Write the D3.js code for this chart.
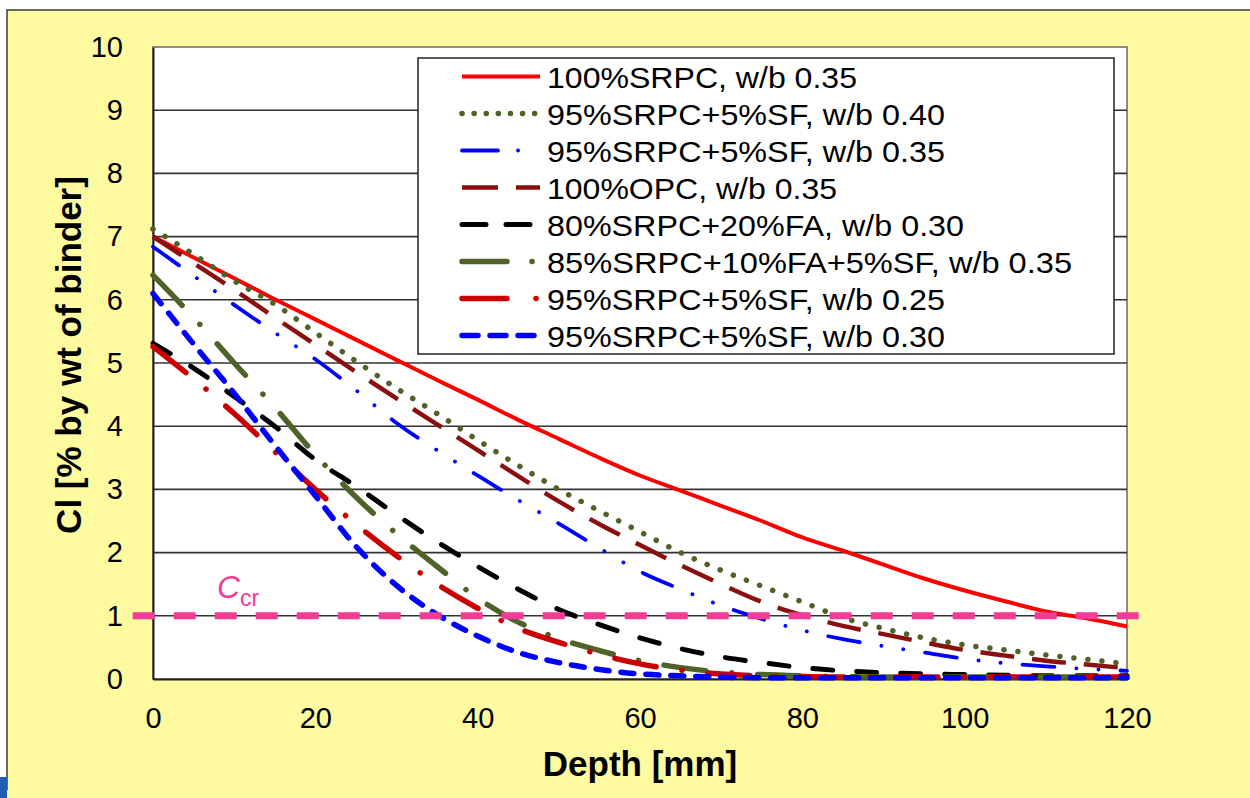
<!DOCTYPE html>
<html>
<head>
<meta charset="utf-8">
<script src="https://cdn.jsdelivr.net/npm/d3@7/dist/d3.min.js"></script>
<style>
  html, body { margin: 0; padding: 0; background: #ffffff; }
  svg { display: block; }
  text { font-family: "Liberation Sans", Arial, sans-serif; }
</style>
</head>
<body>
<svg id="chart" width="1250" height="798"></svg>
<script>
// ---------------- data ----------------
const depth = [0,5,10,15,20,25,30,35,40,45,50,55,60,65,70,75,80,85,90,95,100,105,110,115,120];

const srpc035   = [7.0,6.67,6.34,6.01,5.69,5.37,5.05,4.73,4.42,4.1,3.8,3.5,3.22,2.98,2.74,2.5,2.24,2.03,1.81,1.59,1.4,1.23,1.07,0.96,0.83];
const sf040     = [7.12,6.72,6.3,5.93,5.48,5.03,4.6,4.2,3.78,3.38,3.0,2.66,2.33,2.0,1.72,1.47,1.22,0.97,0.8,0.65,0.54,0.46,0.38,0.31,0.24];
const sf035     = [6.84,6.38,5.92,5.48,5.06,4.57,4.05,3.62,3.22,2.83,2.46,2.07,1.7,1.42,1.16,0.95,0.77,0.63,0.52,0.42,0.32,0.25,0.2,0.16,0.13];
const opc035    = [7.0,6.58,6.16,5.72,5.29,4.86,4.44,4.03,3.62,3.21,2.81,2.45,2.12,1.8,1.5,1.22,1.01,0.84,0.71,0.58,0.46,0.37,0.29,0.23,0.17];
const fa030     = [5.31,4.92,4.47,4.0,3.47,3.05,2.6,2.17,1.78,1.42,1.1,0.86,0.65,0.48,0.35,0.26,0.18,0.13,0.1,0.08,0.07,0.06,0.05,0.05,0.05];
const fasf035   = [6.39,5.72,5.0,4.3,3.55,2.88,2.3,1.78,1.28,0.9,0.64,0.45,0.29,0.18,0.11,0.07,0.05,0.04,0.03,0.03,0.03,0.03,0.03,0.03,0.03];
const sf025     = [5.26,4.75,4.2,3.6,3.0,2.45,1.95,1.5,1.12,0.8,0.58,0.39,0.24,0.14,0.08,0.05,0.04,0.03,0.03,0.03,0.03,0.03,0.03,0.03,0.03];
const sf030     = [6.1,5.3,4.52,3.7,2.9,2.1,1.48,1.02,0.68,0.42,0.26,0.15,0.08,0.05,0.03,0.02,0.02,0.02,0.02,0.02,0.02,0.02,0.02,0.02,0.02];

const seriesNames = [
  "100%SRPC, w/b 0.35",
  "95%SRPC+5%SF, w/b 0.40",
  "95%SRPC+5%SF, w/b 0.35",
  "100%OPC, w/b 0.35",
  "80%SRPC+20%FA, w/b 0.30",
  "85%SRPC+10%FA+5%SF, w/b 0.35",
  "95%SRPC+5%SF, w/b 0.25",
  "95%SRPC+5%SF, w/b 0.30"
];
const seriesValues = [srpc035, sf040, sf035, opc035, fa030, fasf035, sf025, sf030];

const xTicks = [0,20,40,60,80,100,120];
const yTicks = [0,1,2,3,4,5,6,7,8,9,10];
const ccrValue = 1;
const ccrDepthRange = [-2.5, 123.4];

// ---------------- styles ----------------
const styles = [
  {color:"#ff0000", width:4, dash:null, cap:"butt", legendDash:null},
  {color:"#4f6228", width:5.5, dash:"0.1 14", cap:"round", legendDash:"0.1 12"},
  {color:"#0000ff", width:3.8, dash:"32 22 0.1 22 0.1 22", cap:"round", legendDash:"36 20 0.1 40"},
  {color:"#8a0f0f", width:4.5, dash:"34 18", cap:"butt", legendDash:"36 18"},
  {color:"#000000", width:5, dash:"20 24", cap:"round", legendDash:"24 20"},
  {color:"#4f6228", width:5.5, dash:"42 26 0.1 26", cap:"round", legendDash:"45 25 0.1 40"},
  {color:"#cc0000", width:5.5, dash:"42 26 0.1 26", cap:"round", legendDash:"45 29 0.1 40"},
  {color:"#0000ff", width:5.5, dash:"13 12", cap:"round", legendDash:"16 12"}
];
const legendTextWidths = [310, 398, 398, 290, 417, 525, 398, 398];

// ---------------- layout ----------------
const svg = d3.select("#chart");
const plot = {left:153, right:1127, top:47, bottom:679};

const x = d3.scaleLinear().domain([0,120]).range([plot.left, plot.right]);
const y = d3.scaleLinear().domain([0,10]).range([plot.bottom, plot.top]);

// slide background
svg.append("rect").attr("x",0).attr("y",0).attr("width",1250).attr("height",798).attr("fill","#ffffff");
svg.append("rect").attr("x",7).attr("y",10).attr("width",1243).attr("height",788).attr("fill","#fdfaa0");
svg.append("path").attr("d","M7,790 L7,10 L1250,10").attr("fill","none").attr("stroke","#3a3a3a").attr("stroke-width",1.5);
svg.append("rect").attr("x",0).attr("y",777).attr("width",7).attr("height",21).attr("fill","#1f5fb0");

// plot area
svg.append("rect")
  .attr("x",plot.left).attr("y",plot.top)
  .attr("width",plot.right-plot.left).attr("height",plot.bottom-plot.top)
  .attr("fill","#ffffff").attr("stroke","#6a6a6a").attr("stroke-width",1.5);

// gridlines
svg.append("g").selectAll("line").data(yTicks.filter(d => d>0 && d<10)).join("line")
  .attr("x1",plot.left).attr("x2",plot.right)
  .attr("y1",d=>y(d)).attr("y2",d=>y(d))
  .attr("stroke","#333333").attr("stroke-width",1.6);

// axes
const yAxis = d3.axisLeft(y).tickValues(yTicks).tickSize(0).tickPadding(30).tickFormat(d3.format("d"));
const gy = svg.append("g").attr("transform",`translate(${plot.left},0)`).call(yAxis);
gy.select(".domain").attr("stroke","#222").attr("stroke-width",2);
gy.selectAll("text").attr("font-size",29).attr("fill","#000")
  .attr("font-family","'Liberation Sans', Arial, sans-serif");

const xAxis = d3.axisBottom(x).tickValues(xTicks).tickSize(0).tickPadding(28).tickFormat(d3.format("d"));
const gx = svg.append("g").attr("transform",`translate(0,${plot.bottom})`).call(xAxis);
gx.select(".domain").attr("stroke","#222").attr("stroke-width",2);
gx.selectAll("text").attr("font-size",29).attr("fill","#000")
  .attr("font-family","'Liberation Sans', Arial, sans-serif");

// series lines
const line = d3.line().x(d=>x(d[0])).y(d=>y(d[1])).curve(d3.curveMonotoneX);
const gLines = svg.append("g");
seriesValues.forEach((vals,i) => {
  const st = styles[i];
  gLines.append("path")
    .datum(depth.map((d,j)=>[d, vals[j]]))
    .attr("d", line)
    .attr("fill","none")
    .attr("stroke", st.color)
    .attr("stroke-width", st.width)
    .attr("stroke-linecap", st.cap)
    .attr("stroke-dasharray", st.dash);
});

// critical chloride line
svg.append("line")
  .attr("x1", x(ccrDepthRange[0])).attr("x2", x(ccrDepthRange[1]))
  .attr("y1", y(ccrValue)).attr("y2", y(ccrValue))
  .attr("stroke","#f23c96").attr("stroke-width",7).attr("stroke-dasharray","22 19");

const ccr = svg.append("text").attr("x",217).attr("y",y(ccrValue)-18)
  .attr("fill","#f23c96").attr("font-size",32).attr("font-style","italic");
ccr.append("tspan").text("C");
ccr.append("tspan").attr("font-size",23).attr("font-style","normal").attr("dy",8).text("cr");

// legend
const lg = svg.append("g");
lg.append("rect").attr("x",418).attr("y",58).attr("width",696).attr("height",296)
  .attr("fill","#ffffff").attr("stroke","#222").attr("stroke-width",1.5);
seriesNames.forEach((name,i) => {
  const cy = 76.5 + i*37;
  const st = styles[i];
  lg.append("line").attr("x1",462).attr("x2",540).attr("y1",cy).attr("y2",cy)
    .attr("stroke",st.color).attr("stroke-width",st.width)
    .attr("stroke-linecap",st.cap).attr("stroke-dasharray",st.legendDash);
  lg.append("text").attr("x",547).attr("y",cy+11)
    .attr("font-size",30).attr("fill","#000")
    .attr("textLength",legendTextWidths[i]).attr("lengthAdjust","spacingAndGlyphs")
    .text(name);
});

// axis titles
svg.append("text").attr("x",640).attr("y",776).attr("text-anchor","middle")
  .attr("font-size",35).attr("font-weight","bold").attr("fill","#000")
  .text("Depth [mm]");
svg.append("text").attr("transform","translate(81,355) rotate(-90)").attr("text-anchor","middle")
  .attr("font-size",35).attr("font-weight","bold").attr("fill","#000")
  .text("Cl [% by wt of binder]");
</script>
</body>
</html>
